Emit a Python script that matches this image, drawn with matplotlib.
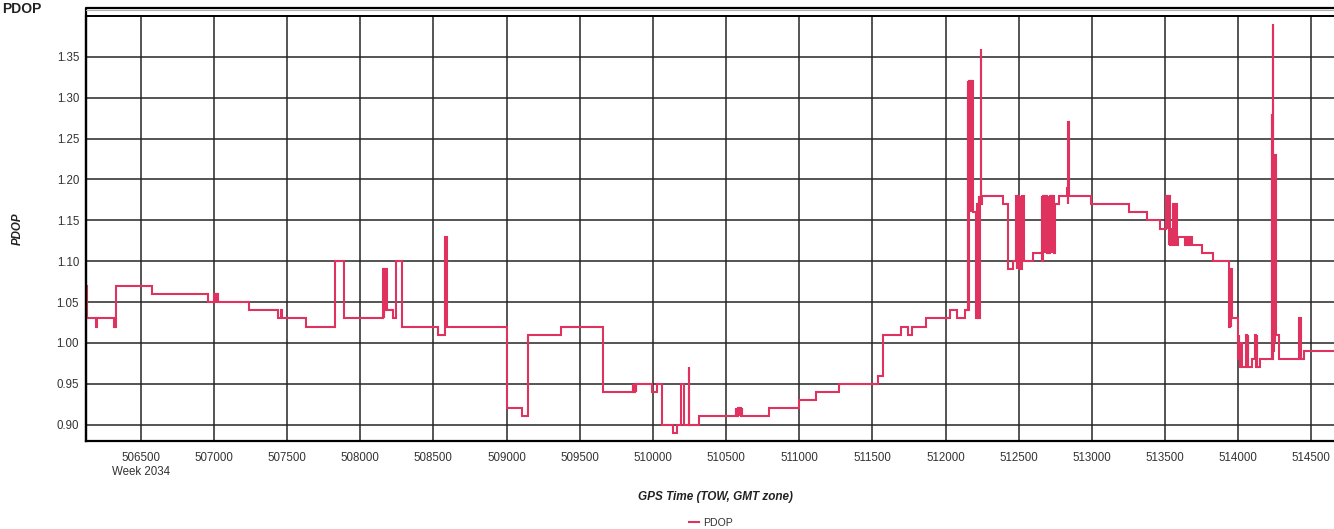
import matplotlib
matplotlib.use("Agg")
import matplotlib.pyplot as plt
from matplotlib.lines import Line2D

# GPS time of week (s) and PDOP (step changes)
tow = [
    506126, 506132, 506195, 506200, 506318, 506322, 506326, 506330,
    506575, 506962, 507003, 507008, 507012, 507018, 507022, 507026,
    507242, 507440, 507458, 507466, 507630, 507828, 507891,
    508154, 508160, 508164, 508170, 508176, 508182, 508188, 508222, 508245, 508288,
    508530, 508580, 508590, 509005, 509104, 509149, 509370, 509661,
    509862, 509866, 509870, 509874, 509878, 509882, 509886, 509890,
    509997, 510026, 510065, 510140, 510167, 510193, 510213, 510245, 510250, 510315,
    510566, 510570, 510574, 510578, 510582, 510586, 510590, 510594, 510598, 510602, 510606, 510611,
    510796, 510999, 511118, 511274, 511537, 511575, 511696, 511741, 511773, 511867,
    512031, 512077, 512133, 512152, 512156, 512160, 512164, 512168, 512172, 512176, 512180,
    512184, 512188, 512202, 512208, 512214, 512220, 512226, 512232, 512238, 512241, 512245, 512252,
    512395, 512425, 512459, 512482, 512486, 512490, 512494, 512498, 512502, 512506, 512510,
    512514, 512518, 512522, 512528, 512532, 512538, 512600,
    512658, 512662, 512666, 512670, 512674, 512678, 512682, 512686, 512690, 512694, 512698,
    512702, 512706, 512710, 512714, 512718, 512722, 512726, 512730, 512734, 512738, 512742,
    512748, 512778, 512830, 512836, 512839, 512843, 512992, 513256, 513375, 513466,
    513507, 513512, 513517, 513524, 513530, 513536, 513550, 513557, 513562, 513567, 513573,
    513578, 513585, 513591, 513637, 513642, 513648, 513654, 513660, 513666, 513672, 513678,
    513684, 513690, 513751, 513830, 513940, 513944, 513948, 513952, 513956,
    513997, 514001, 514005, 514009, 514013, 514022, 514026, 514056, 514060, 514064, 514070,
    514092, 514115, 514120, 514126, 514130, 514149,
    514229, 514233, 514237, 514241, 514245, 514249, 514253, 514257, 514263, 514281,
    514414, 514428, 514452, 514800,
]
pdop = [
    1.07, 1.03, 1.02, 1.03, 1.02, 1.03, 1.02, 1.07,
    1.06, 1.05, 1.06, 1.05, 1.06, 1.05, 1.06, 1.05,
    1.04, 1.03, 1.04, 1.03, 1.02, 1.10, 1.03,
    1.09, 1.03, 1.09, 1.04, 1.09, 1.04, 1.04, 1.03, 1.10, 1.02,
    1.01, 1.13, 1.02, 0.92, 0.91, 1.01, 1.02, 0.94,
    0.95, 0.94, 0.95, 0.94, 0.95, 0.94, 0.95, 0.95,
    0.94, 0.95, 0.90, 0.89, 0.90, 0.95, 0.90, 0.97, 0.90, 0.91,
    0.92, 0.91, 0.92, 0.91, 0.92, 0.91, 0.92, 0.91, 0.92, 0.91, 0.92, 0.91,
    0.92, 0.93, 0.94, 0.95, 0.96, 1.01, 1.02, 1.01, 1.02, 1.03,
    1.04, 1.03, 1.04, 1.32, 1.04, 1.32, 1.16, 1.32, 1.16, 1.32, 1.16,
    1.32, 1.16, 1.16, 1.03, 1.17, 1.03, 1.18, 1.03, 1.17, 1.36, 1.17, 1.18,
    1.17, 1.09, 1.10, 1.18, 1.09, 1.18, 1.10, 1.18, 1.09, 1.18, 1.10,
    1.18, 1.09, 1.18, 1.10, 1.18, 1.10, 1.11,
    1.18, 1.10, 1.18, 1.11, 1.18, 1.11, 1.18, 1.11, 1.18, 1.11, 1.18,
    1.11, 1.18, 1.11, 1.18, 1.11, 1.18, 1.11, 1.18, 1.11, 1.18, 1.11,
    1.17, 1.18, 1.19, 1.17, 1.27, 1.18, 1.17, 1.16, 1.15, 1.14,
    1.18, 1.14, 1.18, 1.12, 1.18, 1.12, 1.14, 1.17, 1.12, 1.17, 1.13,
    1.17, 1.12, 1.13, 1.12, 1.13, 1.12, 1.13, 1.12, 1.13, 1.12, 1.13,
    1.12, 1.12, 1.11, 1.10, 1.02, 1.09, 1.02, 1.09, 1.03,
    1.00, 0.98, 1.01, 0.99, 0.97, 1.00, 0.97, 1.01, 0.97, 1.01, 0.97,
    0.98, 1.01, 0.97, 1.01, 0.97, 0.98,
    1.28, 0.98, 1.39, 0.99, 1.23, 1.00, 1.23, 1.01, 1.01, 0.98,
    1.03, 0.98, 0.99, 0.99,
]

x_ticks = list(range(506500, 515000, 500))
y_ticks = [0.90, 0.95, 1.00, 1.05, 1.10, 1.15, 1.20, 1.25, 1.30, 1.35]

W, H = 1334, 529
line_color = '#E0325F'
text_color = '#333333'
plt.rcParams['font.family'] = ['Liberation Sans', 'DejaVu Sans']

fig = plt.figure(figsize=(W / 100, H / 100), dpi=100)
ax = fig.add_axes([86 / W, (H - 441) / H, (W - 86) / W, (441 - 16) / H])

ax.plot(tow, pdop, drawstyle='steps-post', color=line_color, lw=1.5,
        solid_joinstyle='miter', label='PDOP', zorder=3)

ax.set_xlim(506126, 514655)
ax.set_ylim(0.88, 1.40)
ax.set_xticks(x_ticks)
ax.set_yticks(y_ticks)
ax.set_xticklabels([str(t) for t in x_ticks])
ax.set_yticklabels([f'{v:.2f}' for v in y_ticks])
ax.tick_params(axis='both', length=0, labelsize=8.3, labelcolor=text_color)
ax.tick_params(axis='x', pad=8)
ax.tick_params(axis='y', pad=5)
ax.grid(True, color='#262626', lw=1.1)
ax.set_axisbelow(True)

for side in ['top', 'right']:
    ax.spines[side].set_visible(False)
for side in ['left', 'bottom']:
    ax.spines[side].set_linewidth(1.6)
    ax.spines[side].set_color('black')

# top frame (double border) like the original control
ax.plot([0, 1], [1, 1], transform=ax.transAxes, color='black', lw=1.4, clip_on=False)
fig.add_artist(Line2D([86 / W, 86 / W, 1.0, 1.0], [(H - 441) / H, 1 - 7.7 / H, 1 - 7.7 / H, 1 - 7.7 / H],
                      transform=fig.transFigure, color='black', lw=1.6))
fig.add_artist(Line2D([86 / W, 1.0], [1 - 10 / H, 1 - 10 / H],
                      transform=fig.transFigure, color='#b0b0b0', lw=0.8))

ax.text(506500, -0.072, 'Week 2034', transform=ax.get_xaxis_transform(),
        ha='center', va='center', fontsize=8.3, color=text_color)

fig.text(715 / W, 1 - 497 / H, 'GPS Time (TOW, GMT zone)', ha='center', va='center',
         fontsize=8.5, fontweight='bold', fontstyle='italic', color='#222222')
fig.text(17.5 / W, 1 - 229 / H, 'PDOP', ha='center', va='center', rotation=90,
         fontsize=8.3, fontweight='bold', fontstyle='italic', color='#222222')
fig.text(2 / W, 1 - 2 / H, 'PDOP', ha='left', va='top',
         fontsize=10, fontweight='bold', color='#222222')

fig.legend(handles=[Line2D([], [], color=line_color, lw=1.5)], labels=['PDOP'],
           loc='center', bbox_to_anchor=(711 / W, 1 - 523 / H), frameon=False,
           fontsize=7.6, handlelength=1.0, handletextpad=0.4, labelcolor=text_color)

fig.savefig('out.png', dpi=100)
